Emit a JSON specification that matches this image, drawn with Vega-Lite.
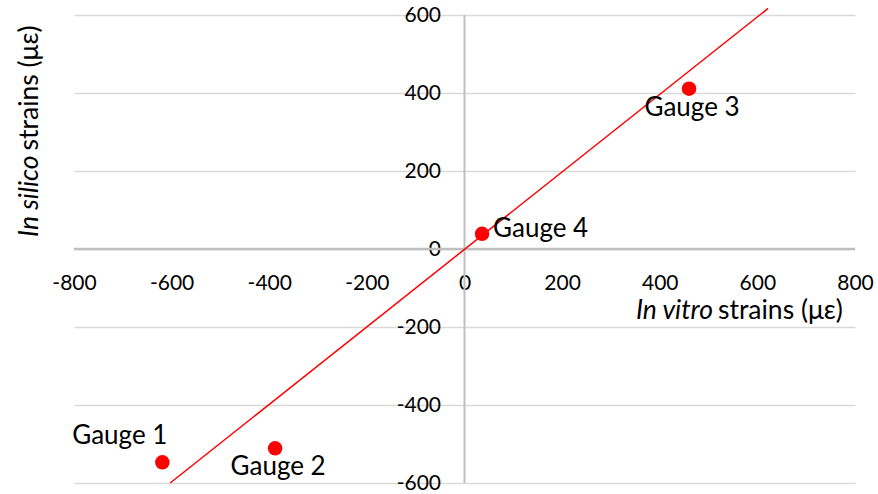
{
  "$schema": "https://vega.github.io/schema/vega-lite/v6.json",
  "autosize": "none",
  "width": 781,
  "height": 468,
  "padding": {"left": 74, "top": 15, "right": 23, "bottom": 11},
  "background": "white",
  "config": {
    "view": {"stroke": null},
    "font": "Lato",
    "text": {"font": "Lato"}
  },
  "datasets": {
    "gauges": [
      {"gauge": "Gauge 1", "invitro": -619, "insilico": -547},
      {"gauge": "Gauge 2", "invitro": -388, "insilico": -511},
      {"gauge": "Gauge 3", "invitro": 460, "insilico": 411},
      {"gauge": "Gauge 4", "invitro": 36, "insilico": 39}
    ],
    "trend": [
      {"invitro": -603, "insilico": -600},
      {"invitro": 622, "insilico": 617}
    ],
    "one": [{"k": 1}]
  },
  "layer": [
    {
      "data": {"name": "gauges"},
      "mark": {"type": "circle", "color": "#ff0000", "opacity": 0},
      "encoding": {
        "x": {
          "field": "invitro",
          "type": "quantitative",
          "scale": {"domain": [-800, 800], "nice": false, "zero": false},
          "axis": {
            "orient": "bottom",
            "offset": -234.5,
            "values": [-800, -600, -400, -200, 0, 200, 400, 600, 800],
            "domain": false,
            "ticks": false,
            "tickSize": 0,
            "grid": false,
            "labelExpr": "replace(datum.label, '\u2212', '-')",
            "labelFont": "Lato",
            "labelFontSize": 21,
            "labelColor": "#000000",
            "labelPadding": 24,
            "labelFlush": false,
            "labelOverlap": false,
            "title": null
          }
        },
        "y": {
          "field": "insilico",
          "type": "quantitative",
          "scale": {"domain": [-600, 600], "nice": false, "zero": false},
          "axis": {
            "orient": "left",
            "offset": -390.5,
            "values": [-600, -400, -200, 0, 200, 400, 600],
            "domain": false,
            "ticks": false,
            "tickSize": 0,
            "grid": true,
            "gridColor": "#d9d9d9",
            "gridWidth": 1.5,
            "labelExpr": "replace(datum.label, '\u2212', '-')",
            "labelFont": "Lato",
            "labelFontSize": 21,
            "labelColor": "#000000",
            "labelPadding": 24,
            "labelFlush": false,
            "labelOverlap": false,
            "title": null
          }
        }
      }
    },
    {
      "data": {"name": "one"},
      "mark": {"type": "rule", "color": "#bfbfbf", "strokeWidth": 2.5},
      "encoding": {"y": {"datum": 0, "type": "quantitative"}}
    },
    {
      "data": {"name": "one"},
      "mark": {"type": "rule", "color": "#bfbfbf", "strokeWidth": 2},
      "encoding": {"x": {"datum": 0, "type": "quantitative"}}
    },
    {
      "data": {"name": "trend"},
      "mark": {"type": "line", "color": "#ff0000", "strokeWidth": 1.5, "clip": false},
      "encoding": {
        "x": {"field": "invitro", "type": "quantitative"},
        "y": {"field": "insilico", "type": "quantitative"}
      }
    },
    {
      "data": {"name": "gauges"},
      "mark": {"type": "circle", "color": "#ff0000", "opacity": 1, "size": 210},
      "encoding": {
        "x": {"field": "invitro", "type": "quantitative"},
        "y": {"field": "insilico", "type": "quantitative"}
      }
    },
    {
      "data": {"name": "gauges"},
      "transform": [{"filter": "datum.gauge === 'Gauge 1'"}],
      "mark": {"type": "text", "align": "right", "baseline": "middle", "dx": 5, "dy": -26, "fontSize": 26, "color": "#000000"},
      "encoding": {
        "x": {"field": "invitro", "type": "quantitative"},
        "y": {"field": "insilico", "type": "quantitative"},
        "text": {"field": "gauge"}
      }
    },
    {
      "data": {"name": "gauges"},
      "transform": [{"filter": "datum.gauge === 'Gauge 2' || datum.gauge === 'Gauge 3'"}],
      "mark": {"type": "text", "align": "center", "baseline": "middle", "dx": 3, "dy": 19, "fontSize": 26, "color": "#000000"},
      "encoding": {
        "x": {"field": "invitro", "type": "quantitative"},
        "y": {"field": "insilico", "type": "quantitative"},
        "text": {"field": "gauge"}
      }
    },
    {
      "data": {"name": "gauges"},
      "transform": [{"filter": "datum.gauge === 'Gauge 4'"}],
      "mark": {"type": "text", "align": "left", "baseline": "middle", "dx": 11, "dy": -5, "fontSize": 26, "color": "#000000"},
      "encoding": {
        "x": {"field": "invitro", "type": "quantitative"},
        "y": {"field": "insilico", "type": "quantitative"},
        "text": {"field": "gauge"}
      }
    },
    {
      "data": {"name": "one"},
      "mark": {"type": "text", "align": "right", "baseline": "middle", "dx": -2, "fontSize": 26.5, "fontStyle": "italic", "color": "#000000"},
      "encoding": {"x": {"datum": 513, "type": "quantitative"}, "y": {"datum": -160, "type": "quantitative"}, "text": {"value": "In vitro"}}
    },
    {
      "data": {"name": "one"},
      "mark": {"type": "text", "align": "left", "baseline": "middle", "dx": 3, "fontSize": 26.5, "color": "#000000"},
      "encoding": {"x": {"datum": 513, "type": "quantitative"}, "y": {"datum": -160, "type": "quantitative"}, "text": {"value": "strains (με)"}}
    },
    {
      "data": {"name": "one"},
      "mark": {"type": "text", "align": "right", "baseline": "middle", "angle": 270, "dx": -2, "fontSize": 26.5, "fontStyle": "italic", "color": "#000000"},
      "encoding": {"x": {"datum": -890, "type": "quantitative"}, "y": {"datum": 245, "type": "quantitative"}, "text": {"value": "In silico"}}
    },
    {
      "data": {"name": "one"},
      "mark": {"type": "text", "align": "left", "baseline": "middle", "angle": 270, "dx": 3, "fontSize": 26.5, "color": "#000000"},
      "encoding": {"x": {"datum": -890, "type": "quantitative"}, "y": {"datum": 245, "type": "quantitative"}, "text": {"value": "strains (με)"}}
    }
  ]
}
